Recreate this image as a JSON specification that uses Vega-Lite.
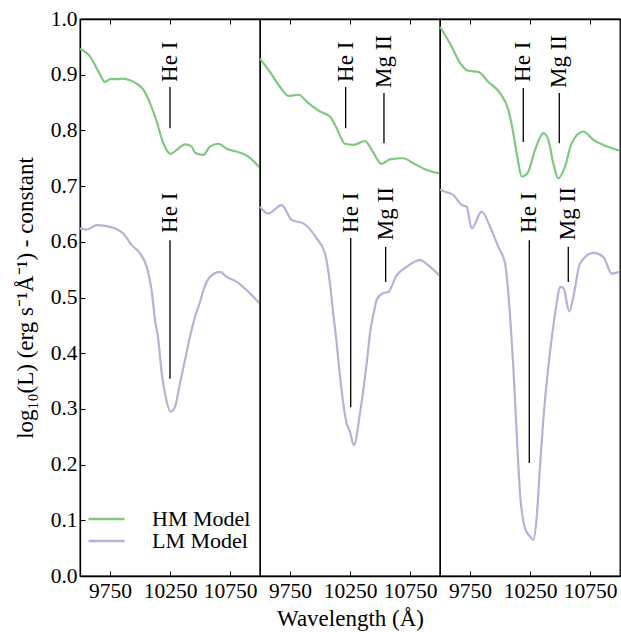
{
  "$schema": "https://vega.github.io/schema/vega-lite/v6.json",
  "padding": {"left": 13, "top": 7, "right": 1, "bottom": 5},
  "background": "white",
  "data": {"values": [
    {"p":1,"m":"HM Model","w":9500,"v":0.946},{"p":1,"m":"HM Model","w":9583,"v":0.933},{"p":1,"m":"HM Model","w":9653,"v":0.906},{"p":1,"m":"HM Model","w":9708,"v":0.887},{"p":1,"m":"HM Model","w":9750,"v":0.892},{"p":1,"m":"HM Model","w":9806,"v":0.892},{"p":1,"m":"HM Model","w":9861,"v":0.893},{"p":1,"m":"HM Model","w":9917,"v":0.890},{"p":1,"m":"HM Model","w":9972,"v":0.884},{"p":1,"m":"HM Model","w":10028,"v":0.873},{"p":1,"m":"HM Model","w":10083,"v":0.849},{"p":1,"m":"HM Model","w":10139,"v":0.816},{"p":1,"m":"HM Model","w":10194,"v":0.777},{"p":1,"m":"HM Model","w":10256,"v":0.758},{"p":1,"m":"HM Model","w":10306,"v":0.765},{"p":1,"m":"HM Model","w":10375,"v":0.775},{"p":1,"m":"HM Model","w":10431,"v":0.771},{"p":1,"m":"HM Model","w":10458,"v":0.760},{"p":1,"m":"HM Model","w":10528,"v":0.756},{"p":1,"m":"HM Model","w":10583,"v":0.771},{"p":1,"m":"HM Model","w":10653,"v":0.776},{"p":1,"m":"HM Model","w":10722,"v":0.767},{"p":1,"m":"HM Model","w":10833,"v":0.760},{"p":1,"m":"HM Model","w":10903,"v":0.753},{"p":1,"m":"HM Model","w":10994,"v":0.734},
    {"p":1,"m":"LM Model","w":9500,"v":0.624},{"p":1,"m":"LM Model","w":9556,"v":0.622},{"p":1,"m":"LM Model","w":9639,"v":0.630},{"p":1,"m":"LM Model","w":9722,"v":0.628},{"p":1,"m":"LM Model","w":9792,"v":0.624},{"p":1,"m":"LM Model","w":9861,"v":0.615},{"p":1,"m":"LM Model","w":9931,"v":0.594},{"p":1,"m":"LM Model","w":10000,"v":0.579},{"p":1,"m":"LM Model","w":10056,"v":0.555},{"p":1,"m":"LM Model","w":10097,"v":0.513},{"p":1,"m":"LM Model","w":10125,"v":0.460},{"p":1,"m":"LM Model","w":10153,"v":0.424},{"p":1,"m":"LM Model","w":10181,"v":0.364},{"p":1,"m":"LM Model","w":10208,"v":0.328},{"p":1,"m":"LM Model","w":10256,"v":0.295},{"p":1,"m":"LM Model","w":10292,"v":0.304},{"p":1,"m":"LM Model","w":10333,"v":0.346},{"p":1,"m":"LM Model","w":10375,"v":0.388},{"p":1,"m":"LM Model","w":10417,"v":0.430},{"p":1,"m":"LM Model","w":10458,"v":0.465},{"p":1,"m":"LM Model","w":10500,"v":0.492},{"p":1,"m":"LM Model","w":10528,"v":0.513},{"p":1,"m":"LM Model","w":10583,"v":0.537},{"p":1,"m":"LM Model","w":10667,"v":0.546},{"p":1,"m":"LM Model","w":10722,"v":0.537},{"p":1,"m":"LM Model","w":10806,"v":0.528},{"p":1,"m":"LM Model","w":10889,"v":0.513},{"p":1,"m":"LM Model","w":10994,"v":0.490},
    {"p":2,"m":"HM Model","w":9500,"v":0.929},{"p":2,"m":"HM Model","w":9583,"v":0.905},{"p":2,"m":"HM Model","w":9667,"v":0.878},{"p":2,"m":"HM Model","w":9736,"v":0.862},{"p":2,"m":"HM Model","w":9819,"v":0.864},{"p":2,"m":"HM Model","w":9903,"v":0.849},{"p":2,"m":"HM Model","w":10000,"v":0.834},{"p":2,"m":"HM Model","w":10083,"v":0.825},{"p":2,"m":"HM Model","w":10139,"v":0.804},{"p":2,"m":"HM Model","w":10208,"v":0.776},{"p":2,"m":"HM Model","w":10278,"v":0.774},{"p":2,"m":"HM Model","w":10375,"v":0.781},{"p":2,"m":"HM Model","w":10431,"v":0.765},{"p":2,"m":"HM Model","w":10514,"v":0.740},{"p":2,"m":"HM Model","w":10583,"v":0.748},{"p":2,"m":"HM Model","w":10694,"v":0.750},{"p":2,"m":"HM Model","w":10778,"v":0.741},{"p":2,"m":"HM Model","w":10889,"v":0.729},{"p":2,"m":"HM Model","w":10994,"v":0.723},
    {"p":2,"m":"LM Model","w":9500,"v":0.663},{"p":2,"m":"LM Model","w":9569,"v":0.651},{"p":2,"m":"LM Model","w":9681,"v":0.666},{"p":2,"m":"LM Model","w":9764,"v":0.639},{"p":2,"m":"LM Model","w":9861,"v":0.633},{"p":2,"m":"LM Model","w":9972,"v":0.606},{"p":2,"m":"LM Model","w":10042,"v":0.579},{"p":2,"m":"LM Model","w":10083,"v":0.525},{"p":2,"m":"LM Model","w":10111,"v":0.470},{"p":2,"m":"LM Model","w":10139,"v":0.418},{"p":2,"m":"LM Model","w":10167,"v":0.358},{"p":2,"m":"LM Model","w":10222,"v":0.274},{"p":2,"m":"LM Model","w":10250,"v":0.259},{"p":2,"m":"LM Model","w":10283,"v":0.235},{"p":2,"m":"LM Model","w":10333,"v":0.292},{"p":2,"m":"LM Model","w":10389,"v":0.382},{"p":2,"m":"LM Model","w":10417,"v":0.436},{"p":2,"m":"LM Model","w":10458,"v":0.483},{"p":2,"m":"LM Model","w":10472,"v":0.496},{"p":2,"m":"LM Model","w":10528,"v":0.508},{"p":2,"m":"LM Model","w":10569,"v":0.510},{"p":2,"m":"LM Model","w":10639,"v":0.540},{"p":2,"m":"LM Model","w":10722,"v":0.555},{"p":2,"m":"LM Model","w":10833,"v":0.567},{"p":2,"m":"LM Model","w":10917,"v":0.555},{"p":2,"m":"LM Model","w":10994,"v":0.540},
    {"p":3,"m":"HM Model","w":9500,"v":0.986},{"p":3,"m":"HM Model","w":9583,"v":0.956},{"p":3,"m":"HM Model","w":9681,"v":0.917},{"p":3,"m":"HM Model","w":9736,"v":0.907},{"p":3,"m":"HM Model","w":9819,"v":0.905},{"p":3,"m":"HM Model","w":9903,"v":0.887},{"p":3,"m":"HM Model","w":10000,"v":0.867},{"p":3,"m":"HM Model","w":10069,"v":0.837},{"p":3,"m":"HM Model","w":10111,"v":0.795},{"p":3,"m":"HM Model","w":10144,"v":0.753},{"p":3,"m":"HM Model","w":10181,"v":0.717},{"p":3,"m":"HM Model","w":10228,"v":0.723},{"p":3,"m":"HM Model","w":10292,"v":0.765},{"p":3,"m":"HM Model","w":10361,"v":0.795},{"p":3,"m":"HM Model","w":10403,"v":0.783},{"p":3,"m":"HM Model","w":10444,"v":0.741},{"p":3,"m":"HM Model","w":10486,"v":0.714},{"p":3,"m":"HM Model","w":10542,"v":0.735},{"p":3,"m":"HM Model","w":10597,"v":0.777},{"p":3,"m":"HM Model","w":10694,"v":0.798},{"p":3,"m":"HM Model","w":10778,"v":0.783},{"p":3,"m":"HM Model","w":10861,"v":0.774},{"p":3,"m":"HM Model","w":10994,"v":0.764},
    {"p":3,"m":"LM Model","w":9500,"v":0.694},{"p":3,"m":"LM Model","w":9542,"v":0.690},{"p":3,"m":"LM Model","w":9611,"v":0.684},{"p":3,"m":"LM Model","w":9681,"v":0.666},{"p":3,"m":"LM Model","w":9722,"v":0.663},{"p":3,"m":"LM Model","w":9764,"v":0.624},{"p":3,"m":"LM Model","w":9847,"v":0.654},{"p":3,"m":"LM Model","w":9917,"v":0.627},{"p":3,"m":"LM Model","w":9986,"v":0.591},{"p":3,"m":"LM Model","w":10042,"v":0.561},{"p":3,"m":"LM Model","w":10083,"v":0.470},{"p":3,"m":"LM Model","w":10111,"v":0.376},{"p":3,"m":"LM Model","w":10139,"v":0.256},{"p":3,"m":"LM Model","w":10167,"v":0.148},{"p":3,"m":"LM Model","w":10208,"v":0.086},{"p":3,"m":"LM Model","w":10250,"v":0.071},{"p":3,"m":"LM Model","w":10278,"v":0.065},{"p":3,"m":"LM Model","w":10306,"v":0.106},{"p":3,"m":"LM Model","w":10333,"v":0.196},{"p":3,"m":"LM Model","w":10375,"v":0.316},{"p":3,"m":"LM Model","w":10403,"v":0.376},{"p":3,"m":"LM Model","w":10444,"v":0.448},{"p":3,"m":"LM Model","w":10472,"v":0.490},{"p":3,"m":"LM Model","w":10500,"v":0.519},{"p":3,"m":"LM Model","w":10528,"v":0.517},{"p":3,"m":"LM Model","w":10578,"v":0.475},{"p":3,"m":"LM Model","w":10611,"v":0.501},{"p":3,"m":"LM Model","w":10667,"v":0.561},{"p":3,"m":"LM Model","w":10778,"v":0.580},{"p":3,"m":"LM Model","w":10861,"v":0.573},{"p":3,"m":"LM Model","w":10931,"v":0.543},{"p":3,"m":"LM Model","w":10994,"v":0.546},
    {"p":1,"a":"He I","w":10250,"y1":0.804,"y2":0.878,"yt":0.887},
    {"p":1,"a":"He I","w":10250,"y1":0.354,"y2":0.603,"yt":0.616},
    {"p":2,"a":"He I","w":10214,"y1":0.804,"y2":0.878,"yt":0.887},
    {"p":2,"a":"Mg II","w":10533,"y1":0.777,"y2":0.867,"yt":0.876},
    {"p":2,"a":"He I","w":10256,"y1":0.303,"y2":0.607,"yt":0.616},
    {"p":2,"a":"Mg II","w":10547,"y1":0.528,"y2":0.591,"yt":0.603},
    {"p":3,"a":"He I","w":10194,"y1":0.779,"y2":0.876,"yt":0.887},
    {"p":3,"a":"Mg II","w":10494,"y1":0.777,"y2":0.867,"yt":0.876},
    {"p":3,"a":"He I","w":10244,"y1":0.203,"y2":0.603,"yt":0.616},
    {"p":3,"a":"Mg II","w":10569,"y1":0.528,"y2":0.591,"yt":0.603}
  ]},
  "spacing": 0,
  "bounds": "flush",
  "hconcat": [
    {
      "width": 180, "height": 557,
      "layer": [
        {
          "transform": [{"filter": "datum.p == 1 && datum.m"}],
          "mark": {"type": "line", "strokeWidth": 2.2, "interpolate": "monotone"},
          "encoding": {
            "x": {"field": "w", "type": "quantitative", "scale": {"domain": [9500, 11000], "nice": false, "zero": false},
                  "axis": {"orient": "bottom", "values": [9750, 10250, 10750], "format": "d", "title": null, "tickSize": -5, "labelPadding": 9, "grid": false, "labelFlush": false, "labelFont": "Liberation Serif", "labelFontSize": 21.5, "labelColor": "black", "domainColor": "black", "domainWidth": 1.3, "tickColor": "black", "tickWidth": 1}},
            "y": {"field": "v", "type": "quantitative", "scale": {"domain": [0, 1], "nice": false, "zero": false},
                  "axis": {"orient": "left", "values": [0, 0.1, 0.2, 0.3, 0.4, 0.5, 0.6, 0.7, 0.8, 0.9, 1.0], "format": ".1f", "title": "log₁₀(L) (erg s⁻¹Å⁻¹) - constant", "tickSize": -5, "labelPadding": 8, "titlePadding": 13, "grid": false, "labelFont": "Liberation Serif", "labelFontSize": 21.5, "labelColor": "black", "titleFont": "Liberation Serif", "titleFontSize": 23, "titleFontWeight": "normal", "titleColor": "black", "domainColor": "black", "domainWidth": 1.3, "tickColor": "black", "tickWidth": 1}},
            "color": {"field": "m", "type": "nominal", "scale": {"domain": ["HM Model", "LM Model"], "range": ["#7fc97f", "#beaed4"]},
                      "legend": {"orient": "none", "legendX": 7, "legendY": 490, "title": null, "symbolType": "stroke", "symbolSize": 1296, "symbolStrokeWidth": 2.5, "clipHeight": 20, "labelFont": "Liberation Serif", "labelFontSize": 22, "labelColor": "black", "labelOffset": 26, "rowPadding": 0, "padding": 0}}
          }
        },
        {
          "transform": [{"filter": "datum.p == 1 && datum.a"}],
          "mark": {"type": "rule", "color": "black", "strokeWidth": 1.3},
          "encoding": {
            "x": {"field": "w", "type": "quantitative", "axis": {"orient": "top", "labels": false, "title": null, "values": [9750, 10250, 10750], "tickSize": -5, "grid": false, "domainColor": "black", "domainWidth": 1.3, "tickColor": "black", "tickWidth": 1}},
            "y": {"field": "y1", "type": "quantitative"},
            "y2": {"field": "y2"}
          }
        },
        {
          "transform": [{"filter": "datum.p == 1 && datum.a"}],
          "mark": {"type": "text", "angle": 270, "align": "left", "baseline": "middle", "font": "Liberation Serif", "fontSize": 23, "color": "black"},
          "encoding": {
            "x": {"field": "w", "type": "quantitative", "axis": null},
            "y": {"field": "yt", "type": "quantitative"},
            "text": {"field": "a"}
          }
        }
      ]
    },
    {
      "width": 180, "height": 557,
      "layer": [
        {
          "transform": [{"filter": "datum.p == 2 && datum.m"}],
          "mark": {"type": "line", "strokeWidth": 2.2, "interpolate": "monotone"},
          "encoding": {
            "x": {"field": "w", "type": "quantitative", "scale": {"domain": [9500, 11000], "nice": false, "zero": false},
                  "axis": {"orient": "bottom", "values": [9750, 10250, 10750], "format": "d", "title": "Wavelength (Å)", "titlePadding": 6, "titleFont": "Liberation Serif", "titleFontSize": 23, "titleFontWeight": "normal", "titleColor": "black", "tickSize": -5, "labelPadding": 9, "grid": false, "labelFlush": false, "labelFont": "Liberation Serif", "labelFontSize": 21.5, "labelColor": "black", "domainColor": "black", "domainWidth": 1.3, "tickColor": "black", "tickWidth": 1}},
            "y": {"field": "v", "type": "quantitative", "scale": {"domain": [0, 1], "nice": false, "zero": false}, "axis": null},
            "color": {"field": "m", "type": "nominal", "scale": {"domain": ["HM Model", "LM Model"], "range": ["#7fc97f", "#beaed4"]}}
          }
        },
        {
          "transform": [{"filter": "datum.p == 2 && datum.a"}],
          "mark": {"type": "rule", "color": "black", "strokeWidth": 1.3},
          "encoding": {
            "x": {"field": "w", "type": "quantitative", "axis": {"orient": "top", "labels": false, "title": null, "values": [9750, 10250, 10750], "tickSize": -5, "grid": false, "domainColor": "black", "domainWidth": 1.3, "tickColor": "black", "tickWidth": 1}},
            "y": {"field": "y1", "type": "quantitative", "axis": null},
            "y2": {"field": "y2"}
          }
        },
        {
          "transform": [{"filter": "datum.p == 2 && datum.a"}],
          "mark": {"type": "text", "angle": 270, "align": "left", "baseline": "middle", "font": "Liberation Serif", "fontSize": 23, "color": "black"},
          "encoding": {
            "x": {"field": "w", "type": "quantitative", "axis": null},
            "y": {"field": "yt", "type": "quantitative", "axis": null},
            "text": {"field": "a"}
          }
        }
      ]
    },
    {
      "width": 180, "height": 557,
      "layer": [
        {
          "transform": [{"filter": "datum.p == 3 && datum.m"}],
          "mark": {"type": "line", "strokeWidth": 2.2, "interpolate": "monotone"},
          "encoding": {
            "x": {"field": "w", "type": "quantitative", "scale": {"domain": [9500, 11000], "nice": false, "zero": false},
                  "axis": {"orient": "bottom", "values": [9750, 10250, 10750], "format": "d", "title": null, "tickSize": -5, "labelPadding": 9, "grid": false, "labelFlush": false, "labelFont": "Liberation Serif", "labelFontSize": 21.5, "labelColor": "black", "domainColor": "black", "domainWidth": 1.3, "tickColor": "black", "tickWidth": 1}},
            "y": {"field": "v", "type": "quantitative", "scale": {"domain": [0, 1], "nice": false, "zero": false}, "axis": null},
            "color": {"field": "m", "type": "nominal", "scale": {"domain": ["HM Model", "LM Model"], "range": ["#7fc97f", "#beaed4"]}}
          }
        },
        {
          "transform": [{"filter": "datum.p == 3 && datum.a"}],
          "mark": {"type": "rule", "color": "black", "strokeWidth": 1.3},
          "encoding": {
            "x": {"field": "w", "type": "quantitative", "axis": {"orient": "top", "labels": false, "title": null, "values": [9750, 10250, 10750], "tickSize": -5, "grid": false, "domainColor": "black", "domainWidth": 1.3, "tickColor": "black", "tickWidth": 1}},
            "y": {"field": "y1", "type": "quantitative", "axis": null},
            "y2": {"field": "y2"}
          }
        },
        {
          "transform": [{"filter": "datum.p == 3 && datum.a"}],
          "mark": {"type": "text", "angle": 270, "align": "left", "baseline": "middle", "font": "Liberation Serif", "fontSize": 23, "color": "black"},
          "encoding": {
            "x": {"field": "w", "type": "quantitative", "axis": null},
            "y": {"field": "yt", "type": "quantitative", "axis": null},
            "text": {"field": "a"}
          }
        }
      ]
    }
  ],
  "config": {
    "view": {"stroke": "black", "strokeWidth": 1.3}
  }
}
